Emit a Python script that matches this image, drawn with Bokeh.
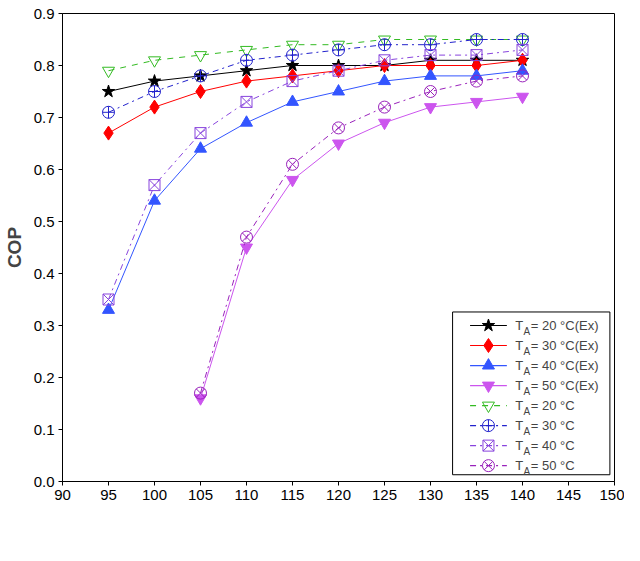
from bokeh.plotting import figure
from bokeh.models import Label, Range1d, FixedTicker, CustomJSTickFormatter
from bokeh.embed import file_html
from bokeh.resources import INLINE

tg = [95, 100, 105, 110, 115, 120, 125, 130, 135, 140]
tg50 = [105, 110, 115, 120, 125, 130, 135, 140]
ex20 = [0.75, 0.77, 0.78, 0.79, 0.80, 0.80, 0.80, 0.81, 0.81, 0.81]
ex30 = [0.67, 0.72, 0.75, 0.77, 0.78, 0.79, 0.80, 0.80, 0.80, 0.81]
ex40 = [0.33, 0.54, 0.64, 0.69, 0.73, 0.75, 0.77, 0.78, 0.78, 0.79]
ex50 = [0.16, 0.45, 0.58, 0.65, 0.69, 0.72, 0.73, 0.74]
m20 = [0.79, 0.81, 0.82, 0.83, 0.84, 0.84, 0.85, 0.85, 0.85, 0.85]
m30 = [0.71, 0.75, 0.78, 0.81, 0.82, 0.83, 0.84, 0.84, 0.85, 0.85]
m40 = [0.35, 0.57, 0.67, 0.73, 0.77, 0.79, 0.81, 0.82, 0.82, 0.83]
m50 = [0.17, 0.47, 0.61, 0.68, 0.72, 0.75, 0.77, 0.78]
labels = ["= 20 °C(Ex)", "= 30 °C(Ex)", "= 40 °C(Ex)", "= 50 °C(Ex)",
          "= 20 °C", "= 30 °C", "= 40 °C", "= 50 °C"]

p = figure(width=624, height=545, output_backend="svg", toolbar_location=None,
           min_border_left=40, min_border_right=10, min_border_top=13, min_border_bottom=64,
           x_range=Range1d(90, 150), y_range=Range1d(0, 0.9))
p.grid.visible = False
p.outline_line_color = "black"
p.xaxis.ticker = FixedTicker(ticks=list(range(90, 151, 5)))
p.yaxis.ticker = FixedTicker(ticks=[i / 10 for i in range(10)])
p.yaxis.formatter = CustomJSTickFormatter(code="return tick.toFixed(1)")
for ax in (p.xaxis, p.yaxis):
    ax.major_label_text_font = "Liberation Sans"
    ax.major_label_text_font_size = "15px"
    ax.major_label_text_color = "black"
    ax.minor_tick_line_color = None
    ax.major_tick_in = 0
    ax.major_tick_out = 4
    ax.major_label_standoff = 4
    ax.axis_line_color = "black"
p.yaxis.axis_label = "COP"
p.yaxis.axis_label_standoff = 6
p.yaxis.axis_label_text_font = "Liberation Sans"
p.yaxis.axis_label_text_font_size = "19px"
p.yaxis.axis_label_text_font_style = "bold"

series = [
    (tg, ex20, "black", "solid", "star", "black", 13),
    (tg, ex30, "red", "solid", "diamond", "red", 14),
    (tg, ex40, "#3355ff", "solid", "triangle", "#3355ff", 12),
    (tg50, ex50, "#cc55ee", "solid", "inverted_triangle", "#cc55ee", 12),
    (tg, m20, "#33bb22", "dashed", "inverted_triangle", None, 12),
    (tg, m30, "#2222cc", "dashdot", "circle_cross", None, 12),
    (tg, m40, "#8844dd", "dashdot", "square_x", None, 11),
    (tg50, m50, "#9922bb", "dashdot", "circle_x", None, 12),
]
lx0, lx1 = 134.3, 138.3
for i, (x, y, c, dash, mk, fill, sz) in enumerate(series):
    p.line(x, y, line_color=c, line_dash=dash, line_width=1)
    p.scatter(x, y, marker=mk, size=sz, line_color=c,
              fill_color=fill if fill else None, line_width=1)
    ly = 0.3 - i * 0.0385
    p.line([lx0, lx1], [ly, ly], line_color=c, line_dash=dash, line_width=1.2)
    p.scatter([(lx0 + lx1) / 2], [ly], marker=mk, size=sz, line_color=c,
              fill_color=fill if fill else None)
    p.add_layout(Label(x=139.2, y=ly, text="T", text_font="Liberation Sans",
                       text_font_size="13px", text_baseline="middle"))
    p.add_layout(Label(x=140.1, y=ly - 0.012, text="A", text_font="Liberation Sans",
                       text_font_size="10px", text_baseline="middle"))
    p.add_layout(Label(x=140.9, y=ly, text=labels[i], text_font="Liberation Sans",
                       text_font_size="13px", text_baseline="middle"))
p.quad(left=[132.4], right=[149.5], bottom=[0.013], top=[0.326],
       fill_color="white", line_color="black", level="underlay")

p.add_layout(Label(x=115.0, y=-0.1, text="T", text_baseline="middle",
                   text_font="Liberation Sans", text_font_size="19px", text_font_style="bold"))
p.add_layout(Label(x=116.3, y=-0.113, text="G", text_baseline="middle",
                   text_font="Liberation Sans", text_font_size="13px", text_font_style="bold"))
p.add_layout(Label(x=117.4, y=-0.1, text="(°C)", text_baseline="middle",
                   text_font="Liberation Sans", text_font_size="19px", text_font_style="bold"))

open("out.html", "w").write(file_html(p, INLINE))
